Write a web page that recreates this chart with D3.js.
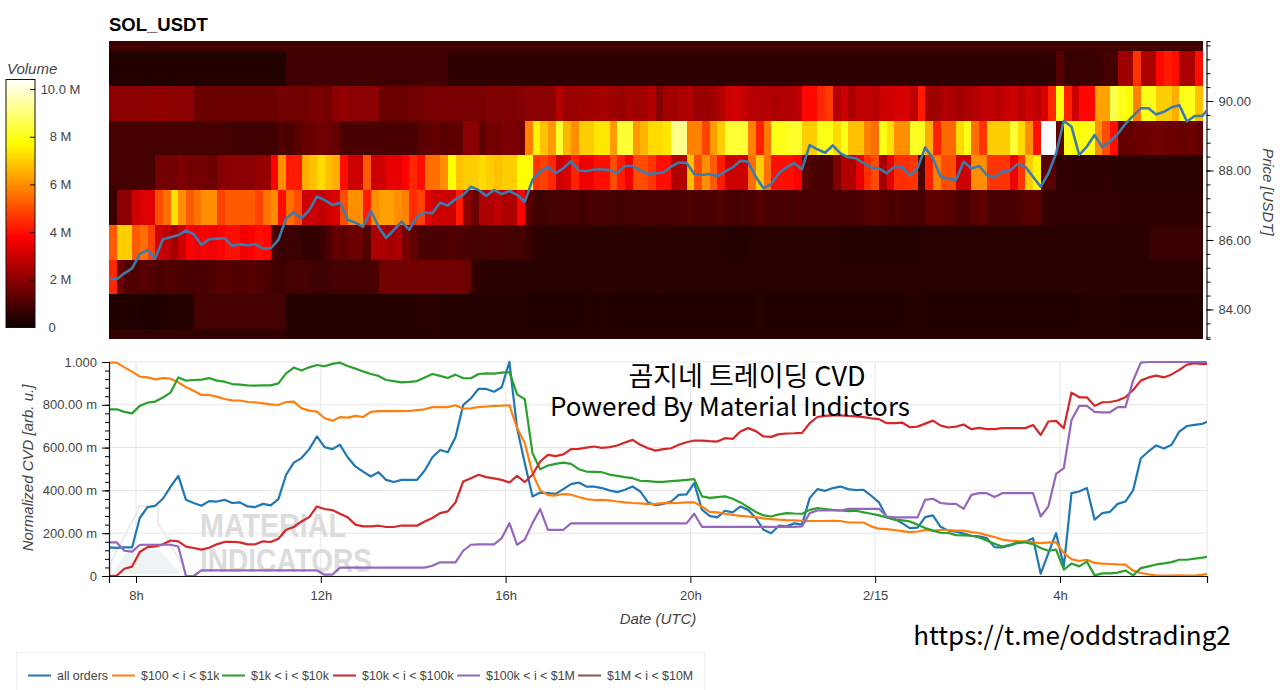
<!DOCTYPE html>
<html>

<head>
    <meta charset="utf-8" />
    <title>SOL_USDT CVD</title>
    <style>
        html, body { margin: 0; background: #fff; overflow: hidden; }
        svg { display: block; }
        text { font-family: "Liberation Sans", sans-serif; }
        .tick text { fill: #444; font-size: 13px; }
        .axis-label { fill: #444; font-size: 15px; font-style: italic; }
        .overlay { font-family: "Noto Sans CJK KR", sans-serif; fill: #000; font-size: 26px; }
        .legend-text { fill: #444; font-size: 12.4px; }
    </style>
</head>

<body>
    <svg id="chart" width="1280" height="690"></svg>
    <script src="https://cdn.jsdelivr.net/npm/d3@7/dist/d3.min.js"></script>
    <script>
        // price bins, lower edge of each row in the heatmap (bottom to top)
        var binEdges = [82.45, 83.45, 84.45, 85.45, 86.45, 87.45, 88.45, 89.45, 90.45, 91.45];

        // volume per 10 minute column, millions
        var vol83 = [
            .6,.6,.6,.6,.6,.6,.6,.6,.6,.6, .6,.6,.6,.6,.6,.6,.6,.6,.6,.6,
            .6,.6,.6,.4,.4,.4,.4,.4,.4,.4, .4,.4,.4,.4,.4,.4,.4,.4,.4,.4,
            .4,.4,.4,.4,.4,.4,.4,.4,.4,.4, .4,.4,.4,.4,.4,.4,.4,.4,.4,.4,
            .4,.4,.4,.4,.4,.4,.4,.4,.4,.4, .4,.4,.4,.4,.4,.4,.4,.4,.4,.4,
            .4,.4,.4,.4,.4,.4,.4,.4,.4,.4, .4,.4,.4,.4,.4,.4,.4,.4,.4,.4,
            .4,.4,.4,.4,.4,.4,.4,.4,.4,.4, .4,.4,.4,.4,.4,.4,.4,.4,.4,.4,
            .4,.4,.4,.4,.4,.4,.4,.4,.4,.4, .4,.4,.4,.4,.4,.4,.4,.4,.4,.4,
            .4,.4];
        var vol84 = [
            .35,.35,.35,.35,.3,.3,.35,.35,.4,.4, .4,.9,.9,.9,.9,.9,.9,.9,.9,.9,
            .9,.9,.9,.4,.4,.4,.4,.4,.4,.4, .4,.4,.4,.4,.4,.4,.4,.4,.4,.4,
            .5,.5,.5,.4,.4,.4,.4,.4,.4,.4, .4,.4,.4,.4,.35,.35,.35,.35,.35,.35,
            .35,.35,.4,.35,.4,.35,.35,.35,.35,.35, .35,.35,.35,.35,.35,.35,.35,.35,.35,.35,
            .35,.35,.35,.35,.4,.35,.35,.35,.35,.35, .35,.35,.35,.35,.35,.35,.35,.35,.35,.35,
            .35,.35,.35,.4,.4,.4,.35,.35,.35,.35, .35,.35,.35,.35,.35,.35,.35,.35,.35,.35,
            .35,.35,.35,.35,.35,.35,.4,.4,.4,.4, .4,.35,.35,.35,.35,.35,.35,.35,.35,.35,
            .35,.35];
        var vol85 = [
            4.4,1.5,1.1,1.1,1.2,1.1,1,1.1,1.1,1, 1,1,1,1.1,1.2,1.2,1.1,1.1,1.2,1.1,
            1,.8,.8,.9,.9,.9,.8,.8,.8,.9, .9,.9,.9,.9,1,1.6,1.6,1.6,1.6,1.6,
            1.6,1.6,1.6,1.6,1.6,1.6,1.5,.6,.5,.5, .5,.5,.5,.5,.45,.45,.45,.45,.45,.45,
            .45,.45,.45,.5,.5,.45,.45,.45,.45,.45, .45,.5,.45,.45,.45,.45,.45,.45,.45,.45,
            .45,.45,.45,.45,.45,.45,.45,.45,.45,.45, .45,.45,.45,.45,.45,.45,.45,.45,.45,.45,
            .45,.45,.45,.45,.45,.45,.45,.45,.45,.45, .45,.45,.45,.45,.45,.45,.45,.45,.45,.45,
            .45,.45,.45,.45,.45,.5,.5,.5,.5,.5, .5,.5,.5,.5,.5,.5,.5,.5,.5,.5,
            .5,.5];
        var vol86 = [
            5.2,7,7,5.2,5.5,4.8,3,2.8,2.4,3, 3.8,3.6,3.8,3.6,3.8,4,4,3.6,3.8,4,
            3.9,1,.7,.8,.7,.6,.6,.7,1,1.4, 1.3,1.5,1.5,1.1,2.5,2.5,2.4,2.5,1.7,1.4,
            1,1,1,1,1.1,1,1,.9,.9,1, 1,.9,.9,.9,.7,.5,.5,.5,.5,.5,
            .5,.5,.45,.45,.45,.5,.5,.45,.45,.5, .45,.45,.5,.45,.45,.45,.45,.45,.45,.45,
            .4,.4,.4,.45,.45,.45,.45,.45,.45,.45, .45,.45,.45,.45,.45,.4,.4,.4,.4,.4,
            .4,.4,.4,.4,.4,.45,.45,.45,.45,.45, .45,.45,.45,.45,.45,.45,.45,.45,.45,.45,
            .45,.45,.45,.45,.45,.45,.45,.45,.45,.45, .45,.45,.45,.45,.5,.7,.7,.7,.7,.7,
            .7,.7];
        var vol87 = [
            .7,2,2,3,3.3,3.3,5,5.5,7.3,6, 5.2,5.6,6,6,4.8,5.2,5.2,5.2,5.2,4.8,
            5.6,6,4,5.5,5,3,3,2.8,3,3.2, 5,6,6,4.2,6,6.3,6.3,6,5.8,4.5,
            4.8,3.4,3,3,3,4.2,2,1.5,2.5,2.5, 2.8,2.5,2.5,3.8,1.2,.8,.8,.9,.9,.9,
            .9,.8,1,.9,1,.9,.8,.9,.9,1, 1,.9,.9,1,1,1.1,1,1,1,1.1,
            1,.9,1,1,1.1,1,1,1,.9,1, .9,1,.9,.9,1,1,1,1,1.1,1.2,
            1.1,1,1.1,1,1,1,1.3,1.3,1.2,1.2, 1,1,1.2,1.3,1,1,1,1,1.1,1.2,
            1.2,.7,.6,.6,.6,.6,.6,.6,.6,.6, .55,.55,.55,.55,.55,.55,.55,.55,.55,.55,
            .55,.55];
        var vol88 = [
            .9,.9,.9,.9,.9,.9,1.6,1.6,1.6,1.8, 1.6,1.6,1.6,1.5,1.9,2,2,2,2,2.1,
            2.2,3.8,6,4.2,4.2,6.5,6.8,7.2,6.8,6.5, 4,3,3,5.2,3,3,3.4,3.4,3.8,4.4,
            4,5.5,5.5,6,7.8,6.8,7,7,7.2,7, 6.8,7,7,7.8,7.8,4.6,4.8,4.4,3,3.2,
            4.3,3.6,3.6,4,4,5,4.2,3.6,5,5, 4.6,4,4,2.6,2.6,6.8,5,6,5.2,4.2,
            3,3,3,5.5,7,5.5,4,4,4,3.8, 1.2,1,.9,1,1.8,2.6,2.6,3.4,4.5,5,
            2.4,3.4,4.5,4.5,4.6,1,4.3,5.8,5,5, 3,3,6,6,4.6,4.6,4.6,3.5,4.6,7,
            7.6,1.2,1.2,.6,.55,.55,.55,.55,.55,.55, .5,.5,.5,.5,.5,.5,.5,.5,.5,.5,
            .5,.5];
        var vol89 = [
            .9,.9,.9,.9,.9,.9,.9,.9,.9,.9, .9,.9,.9,.9,.9,.9,.85,.85,.85,.85,
            .85,.85,1.1,1,1.2,1.4,1.5,1.6,1.5,1.4, 1,1,1,1,1,1,1,1,1,1,
            1.2,1.3,1.4,1.2,1.3,1.3,2,2,1.3,1.6, 1.6,1.8,1.7,1.6,5.8,7.6,6.8,6.2,8.2,6.6,
            6,7,7,7.4,7.4,6.2,8.3,8.3,6.2,6.6, 7.2,7.2,7.4,9.2,9.2,5.8,5.8,4.8,6.2,7,
            8.3,8.3,8.3,5.8,4.3,5.7,8,8,8.2,8.2, 7,7,8,8,7.2,8,6.8,6.8,5.8,5.5,
            8,7.3,6,6,8.1,8.1,6.5,4.3,5.4,5.4, 7.2,8,5.5,4.6,7,7,7,8.3,7.2,6,
            4,10.4,10.4,1.3,8,7.8,7.9,8,6,5, 4,1.4,1.4,1.5,1.5,1.6,1.6,1.5,1.5,1.4,
            1.5,1.4];
        var vol90 = [
            2,2,2,2,2,2,2.1,2,2,2, 2,1.5,1.5,1.5,1.5,1.5,1.5,1.5,1.5,1.5,
            1.5,1.5,1.6,1.6,1.6,1.6,1.7,1.7,1.6,2, 2.1,2,2,2,2,1.5,1.5,1.5,1.5,1.6,
            1.6,1.7,1.7,1.7,1.7,1.7,1.7,1.7,1.7,1.8, 1.8,1.8,1.8,1.9,2,2,2,2,2.6,2.2,
            2.2,2.3,2.3,2.4,2.4,2.3,2.2,2.4,2.3,2.3, 2.6,1.9,2.4,2.3,2.5,2.6,2.2,2.2,2.3,2.6,
            3,3.1,2.9,2.7,2.6,2.6,2.5,2.6,2.6,2.7, 3.9,3.9,4.4,4.7,2.6,3,2.5,2.8,2.8,2.7,
            3,3,3.2,3.2,2.8,4.2,2.3,2.3,2.6,2.5, 2.4,2.5,2.6,2.8,2.8,2.7,2.9,3,2.7,3,
            2.8,3.2,4.4,7.9,4.3,3,3.9,3.9,6.3,6.3, 8.6,8,7.8,5.8,8,8,7,7,6.5,8,
            8,6.8];
        var vol91 = [
            .35,.35,.35,.35,.35,.35,.35,.35,.35,.35, .35,.35,.35,.35,.35,.35,.35,.35,.35,.35,
            .35,.35,.35,.8,.8,.8,.8,.8,.8,.8, .8,.8,.8,.8,.8,.8,.8,.8,.8,.8,
            .85,.85,.85,.85,.55,.55,.55,.55,.55,.55, .55,.55,.55,.55,.55,.55,.55,.55,.55,.55,
            .55,.55,.55,.55,.55,.55,.55,.55,.55,.55, .55,.55,.55,.55,.55,.55,.55,.55,.55,.55,
            .55,.55,.55,.55,.55,.55,.55,.55,.55,.55, .55,.55,.55,.55,.55,.55,.55,.55,.55,.55,
            .55,.55,.55,.55,.55,.55,.55,.55,.55,.55, .55,.55,.55,.55,.55,.55,.55,.55,.55,.55,
            .55,.55,.55,1.2,.7,.7,.7,.7,.7,.9, .9,2.3,2.3,4.6,2.5,2.5,3.9,4.2,4,2.5,
            2.5,4];
        var vol92 = [
            .8,.8,.8,.8,.8,.8,.8,.8,.8,.8, .8,.8,.8,.8,.8,.8,.8,.8,.8,.8,
            .8,.8,.8,.85,.85,.85,.85,.85,.85,.85, .85,.85,.85,.85,.85,.85,.85,.85,.85,.85,
            .85,.85,.85,.85,.8,.8,.8,.8,.8,.8, .8,.8,.8,.8,.8,.8,.8,.8,.8,.8,
            .8,.8,.8,.8,.8,.8,.8,.8,.8,.8, .8,.8,.8,.8,.8,.8,.8,.8,.8,.8,
            .8,.8,.8,.8,.8,.8,.8,.8,.8,.8, .8,.8,.8,.8,.8,.8,.8,.8,.8,.8,
            .8,.8,.8,.8,.8,.8,.8,.8,.8,.8, .8,.8,.8,.8,.8,.8,.8,.8,.8,.8,
            .8,.8,.85,.85,.85,.85,.85,.85,.85,.85, .85,.85,.85,.85,.85,.85,.85,.85,.85,.85,
            .85,.85];
        var volumeRows = [vol83, vol84, vol85, vol86, vol87, vol88, vol89, vol90, vol91, vol92];

        var priceLine = [
            84.90,84.87,85.04,85.18,85.60,85.71,85.47,86.02,86.08,86.14, 86.27,86.17,85.86,86.02,86.04,86.05,85.83,85.88,85.84,85.88,
            85.75,85.76,86.00,86.62,86.80,86.62,86.86,87.25,87.15,87.01, 87.07,86.58,86.50,86.38,86.84,86.38,86.06,86.29,86.53,86.29,
            86.67,86.79,86.77,87.08,86.99,87.17,87.30,87.53,87.44,87.27, 87.44,87.32,87.41,87.30,87.10,87.73,87.97,88.11,87.92,88.06,
            88.27,88.00,87.98,88.03,88.03,88.01,87.92,88.13,88.13,88.00, 87.90,87.92,87.94,88.11,88.23,88.22,87.90,87.87,87.90,87.84,
            87.97,88.09,88.28,88.25,87.82,87.49,87.61,87.92,88.09,88.21, 88.03,88.73,88.61,88.51,88.72,88.49,88.38,88.35,88.21,88.08,
            88.06,87.92,88.11,88.09,87.86,88.06,88.66,88.35,87.82,87.76, 87.73,88.25,88.06,88.13,87.87,87.80,87.97,87.99,88.19,88.11,
            87.82,87.53,87.92,88.49,89.43,89.26,88.45,88.69,89.02,88.67, 88.83,89.05,89.34,89.57,89.79,89.79,89.61,89.69,89.82,89.88,
            89.41,89.57,89.57,89.84];

        // CVD per size class, normalized to thousandths
        var allOrders = [
            134,131,134,134,271,322,328,361,418,468, 356,341,328,350,348,356,341,344,325,322,
            337,330,359,473,530,551,593,652,602,593, 613,555,512,488,465,485,449,439,449,449,
            449,493,555,589,578,648,799,830,875,874, 861,882,1000,690,527,372,390,387,384,406,
            429,437,418,418,411,400,392,403,418,395, 344,331,337,348,379,381,434,310,281,274,
            305,297,325,309,271,216,200,235,232,246, 240,364,406,398,411,418,406,401,403,375,
            344,275,266,247,224,226,275,283,230,212, 207,198,188,185,177,135,134,143,154,159,
            177,11,107,200,45,387,395,411,263,294, 300,337,348,400,550,582,610,596,613,675,
            701,706,711,726];
        var size100 = [
            997,997,975,955,932,928,919,925,922,905, 882,866,846,846,838,827,821,820,813,812,
            807,802,799,813,815,784,773,768,737,726, 742,740,748,743,767,770,770,771,770,771,
            775,779,789,789,789,798,782,784,789,792, 795,796,798,691,621,480,400,378,376,383,
            380,369,359,355,356,353,348,344,341,339, 336,337,341,341,342,344,344,325,300,297,
            291,286,281,278,275,269,266,263,261,260, 258,257,257,257,258,257,250,250,250,232,
            221,219,215,210,205,208,215,212,215,215, 212,212,205,201,191,182,170,165,163,162,
            157,154,157,157,107,79,70,76,61,58, 56,54,53,25,14,8,3,2,2,3,
            2,2,5,14];
        var size1k = [
            779,779,767,760,795,810,815,834,857,928, 913,916,918,925,913,908,897,894,891,890,
            891,891,900,947,974,960,975,986,980,991, 997,981,969,956,944,935,916,911,905,907,
            911,928,944,935,925,941,924,924,944,947, 946,950,953,849,826,574,499,516,524,530,
            524,499,488,487,485,474,468,462,457,445, 443,440,440,443,446,449,453,372,365,369,
            372,361,344,322,299,283,278,288,294,292, 291,309,317,313,309,306,303,305,297,291,
            283,274,263,260,255,240,224,212,202,201, 191,190,188,180,166,151,138,146,157,157,
            149,131,118,123,30,58,45,67,3,12, 12,16,26,3,37,45,54,59,65,76,
            76,81,86,92];
        var size10k = [
            0,2,34,44,112,135,138,148,166,162, 137,131,123,132,148,159,160,157,148,148,
            162,159,174,216,229,255,275,325,313,308, 291,274,240,232,232,235,229,229,236,235,
            235,255,271,294,302,344,442,457,473,462, 456,449,437,468,439,473,535,566,560,568,
            593,594,600,605,599,602,610,624,636,613, 597,586,593,597,613,625,633,633,630,628,
            644,641,675,691,677,652,650,663,666,667, 669,714,743,748,751,751,748,746,742,737,
            733,714,714,717,695,698,712,726,703,694, 698,708,686,692,686,686,691,691,691,691,
            706,659,722,725,691,857,835,835,795,812, 813,820,835,869,913,928,936,928,942,963,
            988,994,991,991];
        var size100k = [
            157,157,118,114,145,146,146,146,146,138, 0,0,26,26,26,26,26,26,26,26,
            26,26,26,26,26,26,26,26,6,6, 39,39,39,39,39,39,39,39,39,39,
            39,39,48,64,64,64,118,146,148,148, 148,177,247,146,170,247,313,216,216,216,
            246,246,246,246,246,246,246,246,246,246, 246,246,246,246,246,246,291,230,230,230,
            230,230,230,230,230,230,230,230,230,230, 232,294,306,306,306,306,314,314,314,314,
            314,278,274,274,274,274,356,361,341,337, 337,314,379,387,387,369,387,387,387,387,
            387,278,325,477,504,729,795,795,767,765, 765,789,789,913,997,1000,1000,1000,1000,1000,
            1000,1000,1000,1000];
        var size1m = [];

        var seriesNames = ["all orders", "$100 < i < $1k", "$1k < i < $10k", "$10k < i < $100k", "$100k < i < $1M", "$1M < i < $10M"];
        var seriesValues = [allOrders, size100, size1k, size10k, size100k, size1m];
        var seriesColors = ["#1f77b4", "#ff7f0e", "#2ca02c", "#d62728", "#9467bd", "#8c564b"];

        var timeTicks = [8, 12, 16, 20, 24, 28];
        var timeLabels = ["8h", "12h", "16h", "20h", "2/15", "4h"];
        var colorbarTicks = [0, 2, 4, 6, 8, 10];
        var colorbarLabels = ["0", "2 M", "4 M", "6 M", "8 M", "10.0 M"];
        var priceTicks = [84, 86, 88, 90];
        var cvdTicks = [0, 200, 400, 600, 800, 1000];
        var cvdLabels = ["0", "200.00 m", "400.00 m", "600.00 m", "800.00 m", "1.000"];
        var startHour = 7.4156;

        var svg = d3.select("#chart");

        // matplotlib style hot ramp
        function hot(v) {
            var t = v / 10.4;
            var r = Math.min(1, 0.0416 + t * 0.9584 / 0.365);
            var g = Math.max(0, Math.min(1, (t - 0.365) / 0.381));
            var b = Math.max(0, Math.min(1, (t - 0.746) / 0.254));
            return d3.rgb(r * 255, g * 255, b * 255);
        }

        var x = d3.scaleLinear().domain([startHour, startHour + 1098 / 46.2]).range([109, 1207]);
        var yPrice = d3.scaleLinear().domain([83.15, 91.727]).range([339, 41]);
        var yCvd = d3.scaleLinear().domain([0, 1000]).range([576, 362]);
        var yBar = d3.scaleLinear().domain([0, 10.4]).range([327.5, 79.5]);

        function hourAt(i) {
            return startHour + i / 6;
        }

        // top panel heatmap
        var clip = svg.append("defs");
        clip.append("clipPath").attr("id", "priceClip").append("rect")
            .attr("x", 109).attr("y", 41).attr("width", 1097).attr("height", 298);
        clip.append("clipPath").attr("id", "cvdClip").append("rect")
            .attr("x", 109).attr("y", 360).attr("width", 1098).attr("height", 217);

        var heat = svg.append("g").attr("clip-path", "url(#priceClip)");
        volumeRows.forEach(function(row, r) {
            heat.append("g").attr("shape-rendering", "crispEdges").selectAll("rect")
                .data(row)
                .enter()
                .append("rect")
                .attr("x", function(d, i) { return x(hourAt(i)); })
                .attr("y", yPrice(binEdges[r] + 1))
                .attr("width", x(hourAt(1)) - x(hourAt(0)) + 0.6)
                .attr("height", yPrice(binEdges[r]) - yPrice(binEdges[r] + 1) + 0.6)
                .attr("fill", function(d) { return hot(d); });
        });

        var line = d3.line()
            .x(function(d, i) { return x(hourAt(i)); })
            .curve(d3.curveLinear);

        heat.append("path")
            .datum(priceLine)
            .attr("fill", "none")
            .attr("stroke", "#3d7bad")
            .attr("stroke-width", 2.6)
            .attr("stroke-linejoin", "round")
            .attr("d", line.y(function(d) { return yPrice(d); }));

        // price axis with 0.4 minor ticks
        var priceAxis = svg.append("g").attr("transform", "translate(1206.5,0)");
        priceAxis.call(d3.axisRight(yPrice).tickValues(d3.range(83.2, 91.7, 0.4)).tickSize(4).tickFormat(""));
        priceAxis.selectAll(".domain").attr("stroke", "#111").attr("stroke-width", 1.2);
        priceAxis.append("g")
            .call(d3.axisRight(yPrice).tickValues(priceTicks).tickSize(7).tickPadding(5).tickFormat(d3.format(".2f")))
            .select(".domain").remove();

        svg.append("text").attr("class", "axis-label")
            .attr("transform", "translate(1263,192) rotate(90)")
            .attr("text-anchor", "middle")
            .text("Price [USDT]");

        svg.append("text")
            .attr("x", 109).attr("y", 31)
            .attr("font-size", 18.5).attr("font-weight", "bold").attr("fill", "#000")
            .text("SOL_USDT");

        // colorbar
        var barSteps = d3.range(0, 10.4, 0.05);
        svg.append("g").attr("shape-rendering", "crispEdges").selectAll("rect")
            .data(barSteps)
            .enter()
            .append("rect")
            .attr("x", 6)
            .attr("y", function(d) { return yBar(d + 0.05); })
            .attr("width", 29)
            .attr("height", yBar(0) - yBar(0.05) + 0.6)
            .attr("fill", function(d) { return hot(d); });
        svg.append("rect")
            .attr("x", 6).attr("y", 79.5).attr("width", 29).attr("height", 248)
            .attr("fill", "none").attr("stroke", "#111").attr("stroke-width", 1);

        var barAxis = svg.append("g").attr("transform", "translate(35,0)");
        barAxis.call(d3.axisLeft(yBar).tickValues(colorbarTicks.slice(1)).tickSize(5).tickFormat(""));
        barAxis.select(".domain").remove();
        svg.append("g").selectAll("text")
            .data(colorbarTicks)
            .enter()
            .append("text")
            .attr("x", function(d) { return d === 0 ? 52 : 60.5; })
            .attr("y", function(d) { return yBar(d) + 4.5; })
            .attr("text-anchor", "middle")
            .attr("font-size", 13)
            .attr("fill", "#444")
            .text(function(d, i) { return colorbarLabels[i]; });
        svg.append("text").attr("class", "axis-label")
            .attr("x", 7).attr("y", 74)
            .text("Volume");

        // lower panel grid
        var grid = svg.append("g");
        grid.selectAll("line.h")
            .data(cvdTicks)
            .enter()
            .append("line")
            .attr("x1", 109).attr("x2", 1207)
            .attr("y1", function(d) { return yCvd(d); })
            .attr("y2", function(d) { return yCvd(d); })
            .attr("stroke", "#e6e6e6").attr("stroke-width", 1);
        grid.selectAll("line.v")
            .data(timeTicks.concat([x.domain()[1]]))
            .enter()
            .append("line")
            .attr("y1", 362).attr("y2", 576)
            .attr("x1", function(d) { return x(d); })
            .attr("x2", function(d) { return x(d); })
            .attr("stroke", "#e6e6e6").attr("stroke-width", 1);

        // watermark
        var mark = svg.append("g");
        mark.append("path")
            .attr("d", "M112,574 L126,552 L142,548 L160,551 L181,574 Z")
            .attr("fill", "#eef3f4");
        mark.append("path")
            .attr("d", "M111,574 L111,562 L138,510 L139,506 L158,506 L158,523 L181,563")
            .attr("fill", "none").attr("stroke", "#e9e6e6").attr("stroke-width", 1.5);
        mark.append("text")
            .attr("x", 200).attr("y", 537)
            .attr("font-size", 33).attr("font-weight", "bold").attr("fill", "#dcdcdc")
            .attr("textLength", 146).attr("lengthAdjust", "spacingAndGlyphs")
            .text("MATERIAL");
        mark.append("text")
            .attr("x", 200).attr("y", 572)
            .attr("font-size", 33).attr("font-weight", "bold").attr("fill", "#dcdcdc")
            .attr("textLength", 172).attr("lengthAdjust", "spacingAndGlyphs")
            .text("INDICATORS");

        // CVD lines
        svg.append("g").attr("clip-path", "url(#cvdClip)")
            .selectAll("path")
            .data(seriesValues)
            .enter()
            .append("path")
            .attr("fill", "none")
            .attr("stroke", function(d, i) { return seriesColors[i]; })
            .attr("stroke-width", 2.2)
            .attr("stroke-linejoin", "round")
            .attr("d", d3.line()
                .x(function(d, i) { return x(hourAt(i)); })
                .y(function(d) { return yCvd(d); }));

        // cvd axes
        var cvdAxis = svg.append("g").attr("transform", "translate(109,0)");
        cvdAxis.call(d3.axisLeft(yCvd).tickValues(d3.range(0, 1001, 40)).tickSize(4).tickFormat(""));
        cvdAxis.select(".domain").attr("stroke", "#111").attr("stroke-width", 1.2);
        cvdAxis.append("g")
            .call(d3.axisLeft(yCvd).tickValues(cvdTicks).tickSize(7).tickPadding(5)
                .tickFormat(function(d, i) { return cvdLabels[i]; }))
            .select(".domain").remove();

        var timeAxis = svg.append("g").attr("transform", "translate(0,576)");
        timeAxis.call(d3.axisBottom(x).tickValues(timeTicks).tickSize(7).tickPadding(8)
            .tickFormat(function(d, i) { return timeLabels[i]; }));
        timeAxis.select(".domain").attr("stroke", "#111").attr("stroke-width", 1.2);

        svg.append("text").attr("class", "axis-label")
            .attr("transform", "translate(33,468) rotate(-90)")
            .attr("text-anchor", "middle")
            .text("Normalized CVD [arb. u.]");
        svg.append("text").attr("class", "axis-label")
            .attr("x", 658).attr("y", 624)
            .attr("text-anchor", "middle")
            .text("Date (UTC)");

        // pasted captions
        var caption = svg.append("text").attr("class", "overlay").attr("text-anchor", "middle");
        caption.append("tspan")
            .attr("x", 747).attr("y", 386).attr("font-size", 27)
            .text("곰지네 트레이딩 CVD");
        caption.append("tspan")
            .attr("x", 730).attr("y", 416)
            .text("Powered By Material Indictors");
        svg.append("text").attr("class", "overlay")
            .attr("x", 1072).attr("y", 645).attr("text-anchor", "middle")
            .text("https://t.me/oddstrading2");

        // legend
        svg.append("rect")
            .attr("x", 16.5).attr("y", 652.5).attr("width", 688).attr("height", 45)
            .attr("fill", "#fff").attr("stroke", "#eee");
        var legendSwatchX = [28, 112, 222, 333, 457, 578];
        var legend = svg.append("g").selectAll("g")
            .data(seriesNames)
            .enter()
            .append("g")
            .attr("transform", function(d, i) { return "translate(" + legendSwatchX[i] + ",675.5)"; });
        legend.append("line")
            .attr("x1", 0).attr("x2", 23)
            .attr("stroke", function(d, i) { return seriesColors[i]; })
            .attr("stroke-width", 2);
        legend.append("text").attr("class", "legend-text")
            .attr("x", 29).attr("y", 4.5)
            .text(function(d) { return d; });
    </script>
</body>

</html>
